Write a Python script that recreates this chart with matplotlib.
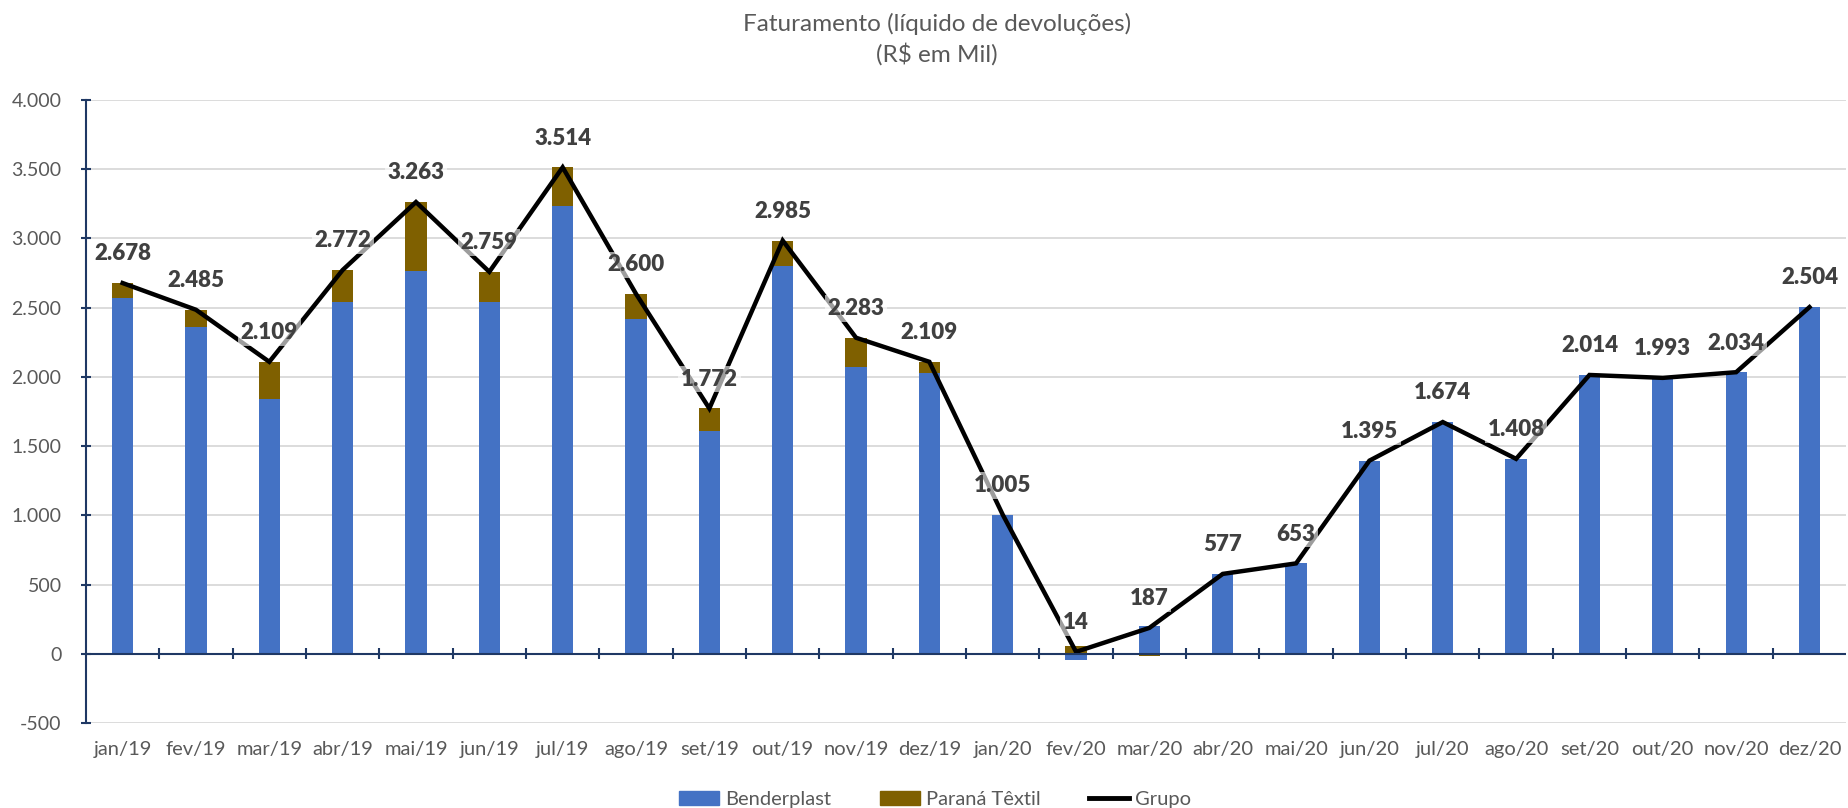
import matplotlib.pyplot as plt
from matplotlib.patches import Patch
from matplotlib.lines import Line2D
import numpy as np

plt.rcParams['font.family'] = ['Lato', 'DejaVu Sans']

meses = ["jan/19", "fev/19", "mar/19", "abr/19", "mai/19", "jun/19", "jul/19", "ago/19",
         "set/19", "out/19", "nov/19", "dez/19", "jan/20", "fev/20", "mar/20", "abr/20",
         "mai/20", "jun/20", "jul/20", "ago/20", "set/20", "out/20", "nov/20", "dez/20"]
benderplast = [2572, 2363, 1843, 2544, 2768, 2544, 3235, 2415, 1608, 2802, 2075, 2031,
               1005, -45, 204, 577, 653, 1395, 1674, 1408, 2014, 1993, 2034, 2504]
parana = [106, 122, 266, 228, 495, 215, 279, 185, 164, 183, 208, 78,
          0, 59, -17, 0, 0, 0, 0, 0, 0, 0, 0, 0]
grupo = [2678, 2485, 2109, 2772, 3263, 2759, 3514, 2600, 1772, 2985, 2283, 2109,
         1005, 14, 187, 577, 653, 1395, 1674, 1408, 2014, 1993, 2034, 2504]

AZUL = "#4472C4"
MARROM = "#7F6000"
EIXO = "#1F3864"
CINZA = "#595959"

def fmt(v):
    return f"{v:,.0f}".replace(",", ".")

fig = plt.figure(figsize=(18.48, 8.08), dpi=100)
ax = fig.add_axes([0.0465, 0.1052, 0.9525, 0.771])

x = np.arange(len(meses))
b = np.array(benderplast)
p = np.array(parana)
# excel empilha positivos e negativos separadamente
base_p = np.where(p >= 0, np.maximum(b, 0), np.minimum(b, 0))
ax.bar(x, b, width=0.29, color=AZUL, zorder=2)
ax.bar(x, p, width=0.29, bottom=base_p, color=MARROM, zorder=2)
ax.plot(x, grupo, color="black", lw=3.2, zorder=3, solid_joinstyle="miter")

for xi, v in zip(x, grupo):
    ax.annotate(fmt(v), (xi, v), xytext=(0, 21), textcoords="offset points",
                ha="center", va="center", fontsize=16, fontweight="heavy", color="#404040",
                zorder=4, bbox=dict(boxstyle="square,pad=0.12", fc="white", ec="none", alpha=0.62))

ax.set_xlim(-0.5, len(meses) - 0.5)
ax.set_ylim(-500, 4000)
ax.set_yticks(np.arange(-500, 4001, 500))
ax.set_yticklabels([fmt(t) for t in np.arange(-500, 4001, 500)])
ax.set_xticks(x)
ax.set_xticklabels(meses)
ax.grid(axis="y", color="#D9D9D9", lw=1.3, zorder=0)
ax.set_axisbelow(True)

for s in ["top", "right", "bottom"]:
    ax.spines[s].set_visible(False)
ax.spines["left"].set_color(EIXO)
ax.spines["left"].set_linewidth(1.5)
ax.tick_params(axis="y", direction="inout", length=7, width=1.5, color=EIXO,
               labelsize=14, labelcolor=CINZA, pad=14)
ax.tick_params(axis="x", length=0, labelsize=14.5, labelcolor=CINZA, pad=13)

# linha do zero com marcas entre categorias
ax.axhline(0, color=EIXO, lw=1.5, zorder=3)
ax.vlines(np.arange(0.5, len(meses) - 0.5), -40, 40, color=EIXO, lw=1.5, zorder=3)

fig.text(0.507, 0.97, "Faturamento (líquido de devoluções)", ha="center", va="center",
         fontsize=17.5, color=CINZA)
fig.text(0.507, 0.933, "(R$ em Mil)", ha="center", va="center", fontsize=17.5, color=CINZA)

handles = [Patch(color=AZUL), Patch(color=MARROM), Line2D([], [], color="black", lw=3.5)]
fig.legend(handles, ["Benderplast", "Paraná Têxtil", "Grupo"], loc="center",
           bbox_to_anchor=(0.506, 0.01), ncol=3, frameon=False, fontsize=14.5,
           labelcolor=CINZA, handlelength=2.0, handletextpad=0.3, columnspacing=2.4)

fig.savefig("out.png", dpi=100)
